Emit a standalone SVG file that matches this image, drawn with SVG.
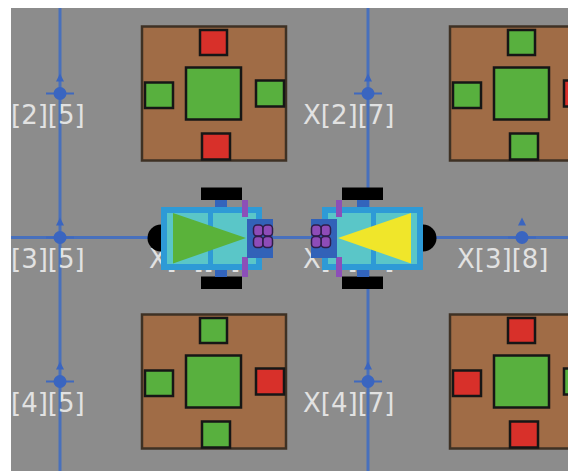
<svg xmlns="http://www.w3.org/2000/svg" xmlns:xlink="http://www.w3.org/1999/xlink" width="570" height="471" viewBox="0 0 570 471">
  <style>
    .grid { stroke: #4870bc; stroke-width: 3; fill: none; }
    .mk-bar { stroke: #3f69bf; stroke-width: 2; }
    .mk { fill: #3a65c0; }
    .lbl { font-family: "DejaVu Sans", "Liberation Sans", sans-serif; font-size: 26px; fill: #e2e2e2; }
    .bed { fill: #a06c46; stroke: #3e3124; stroke-width: 2.5; }
    .cell { stroke: #161616; stroke-width: 2.5; }
    .g { fill: #58b03e; }
    .r { fill: #d8302a; }
    .tyre { fill: #000; }
    .axle { fill: #3264bc; }
    .frame { fill: #2e9ad6; }
    .deck { fill: #5ac6c8; }
    .bar { fill: #8c4fb8; }
    .head { fill: #3262b8; }
    .bump { fill: #8e4cb8; stroke: #2e1e4a; stroke-width: 1.5; }
  </style>
  <defs>
    <clipPath id="field-clip">
      <rect x="11" y="8" width="557" height="463"/>
    </clipPath>
    <!-- grid node: horizontal tick, dot and small heading arrow -->
    <g id="node-marker">
      <line class="mk-bar" x1="-14" y1="0" x2="14" y2="0"/>
      <polygon class="mk" points="0,-20 -4,-12 4,-12"/>
      <circle class="mk" cx="0" cy="0" r="6.5"/>
    </g>
    <!-- plant bed frame, drawn around (0,0) -->
    <rect id="bed-frame" class="bed" x="-72" y="-67" width="144" height="134"/>
    <!-- robot chassis, facing +x, centred on (0,0) -->
    <g id="robot-chassis">
      <circle class="tyre" cx="-50.5" cy="0" r="13.5"/>
      <rect class="tyre" x="-10.5" y="-50.5" width="41" height="12.5"/>
      <rect class="tyre" x="-10.5" y="38.5" width="41" height="12.5"/>
      <rect class="axle" x="3.5" y="-38" width="12" height="7"/>
      <rect class="axle" x="3.5" y="32" width="12" height="7"/>
      <rect class="frame" x="-50.5" y="-31" width="101" height="63"/>
      <rect class="deck" x="-44.5" y="-25" width="89" height="51"/>
      <rect class="frame" x="-3.5" y="-25" width="5" height="51"/>
    </g>
    <!-- gripper head with side bars and four pads -->
    <g id="robot-head">
      <rect class="bar" x="30.5" y="-38" width="6" height="17"/>
      <rect class="bar" x="30.5" y="19" width="6" height="20"/>
      <rect class="head" x="35.5" y="-19" width="26" height="39"/>
      <rect class="bump" x="42" y="-13" width="9.5" height="11" rx="3.5"/>
      <rect class="bump" x="51.5" y="-13" width="9.5" height="11" rx="3.5"/>
      <rect class="bump" x="42" y="-1.5" width="9.5" height="11" rx="3.5"/>
      <rect class="bump" x="51.5" y="-1.5" width="9.5" height="11" rx="3.5"/>
    </g>
  </defs>

  <rect width="570" height="471" fill="#ffffff"/>

  <g clip-path="url(#field-clip)">
    <rect x="11" y="8" width="557" height="463" fill="#8c8c8c"/>

    <!-- track lines -->
    <g id="connectors">
      <line class="grid" x1="60" y1="0" x2="60" y2="471"/>
      <line class="grid" x1="368" y1="0" x2="368" y2="471"/>
      <line class="grid" x1="0" y1="237.5" x2="570" y2="237.5"/>
    </g>

    <!-- grid nodes -->
    <g id="node-2-5"><use xlink:href="#node-marker" x="60" y="93.5"/><text class="lbl" x="11" y="123.5">[2][5]</text></g>
    <g id="node-3-5"><use xlink:href="#node-marker" x="60" y="237.5"/><text class="lbl" x="11" y="267.5">[3][5]</text></g>
    <g id="node-4-5"><use xlink:href="#node-marker" x="60" y="381.5"/><text class="lbl" x="11" y="411.5">[4][5]</text></g>
    <g id="node-2-7"><use xlink:href="#node-marker" x="368" y="93.5"/><text class="lbl" x="303" y="123.5">X[2][7]</text></g>
    <g id="node-4-7"><use xlink:href="#node-marker" x="368" y="381.5"/><text class="lbl" x="303" y="411.5">X[4][7]</text></g>
    <g id="node-3-8"><use xlink:href="#node-marker" x="522" y="237.5"/><text class="lbl" x="457" y="267.5">X[3][8]</text></g>
    <g id="node-3-6"><text class="lbl" x="149" y="267.5">X[3][6]</text></g>
    <g id="node-3-7"><text class="lbl" x="303" y="267.5">X[3][7]</text></g>

    <!-- plant beds -->
    <g id="bed-2-6" transform="translate(214,93.5)">
      <use xlink:href="#bed-frame"/>
      <rect class="cell r" x="-14" y="-63.5" width="27" height="25"/>
      <rect class="cell r" x="-12" y="40" width="28" height="26"/>
      <rect class="cell g" x="-69" y="-11" width="28" height="25.5"/>
      <rect class="cell g" x="42" y="-13" width="28" height="26"/>
      <rect class="cell g" x="-28" y="-26" width="55" height="52"/>
    </g>
    <g id="bed-2-8" transform="translate(522,93.5)">
      <use xlink:href="#bed-frame"/>
      <rect class="cell g" x="-14" y="-63.5" width="27" height="25"/>
      <rect class="cell g" x="-12" y="40" width="28" height="26"/>
      <rect class="cell g" x="-69" y="-11" width="28" height="25.5"/>
      <rect class="cell r" x="42" y="-13" width="28" height="26"/>
      <rect class="cell g" x="-28" y="-26" width="55" height="52"/>
    </g>
    <g id="bed-4-6" transform="translate(214,381.5)">
      <use xlink:href="#bed-frame"/>
      <rect class="cell g" x="-14" y="-63.5" width="27" height="25"/>
      <rect class="cell g" x="-12" y="40" width="28" height="26"/>
      <rect class="cell g" x="-69" y="-11" width="28" height="25.5"/>
      <rect class="cell r" x="42" y="-13" width="28" height="26"/>
      <rect class="cell g" x="-28" y="-26" width="55" height="52"/>
    </g>
    <g id="bed-4-8" transform="translate(522,381.5)">
      <use xlink:href="#bed-frame"/>
      <rect class="cell r" x="-14" y="-63.5" width="27" height="25"/>
      <rect class="cell r" x="-12" y="40" width="28" height="26"/>
      <rect class="cell r" x="-69" y="-11" width="28" height="25.5"/>
      <rect class="cell g" x="42" y="-13" width="28" height="26"/>
      <rect class="cell g" x="-28" y="-26" width="55" height="52"/>
    </g>

    <!-- robots -->
    <g id="robot-green" transform="translate(211.5,238)">
      <use xlink:href="#robot-chassis"/>
      <polygon points="-38.5,-25 -38.5,25.5 34.5,0" fill="#5ab23a"/>
      <use xlink:href="#robot-head"/>
    </g>
    <g id="robot-yellow" transform="translate(372.5,238) scale(-1,1)">
      <use xlink:href="#robot-chassis"/>
      <polygon points="-38.5,-25 -38.5,25.5 34.5,0" fill="#f0e62a"/>
      <use xlink:href="#robot-head"/>
    </g>
  </g>
</svg>
